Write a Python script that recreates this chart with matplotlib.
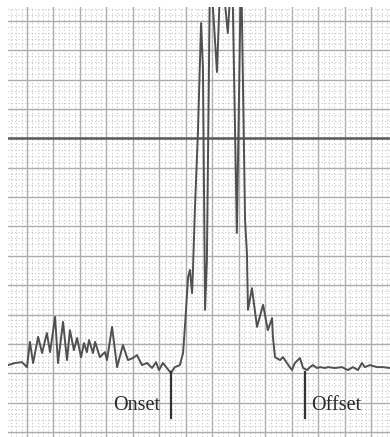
import numpy as np
import matplotlib.pyplot as plt
from matplotlib.ticker import MultipleLocator

# Trace, in grid divisions (major square = 1)
t = [-0.72, -0.45, -0.19, 0.00, 0.11, 0.23, 0.42, 0.57, 0.75, 0.87, 1.06, 1.17,
     1.36, 1.51, 1.62, 1.77, 1.89, 2.04, 2.15, 2.26, 2.34, 2.49, 2.57, 2.75,
     2.94, 3.02, 3.21, 3.40, 3.62, 3.81, 4.00, 4.15, 4.34, 4.53, 4.72, 4.87,
     4.98, 5.13, 5.28, 5.43, 5.58, 5.77, 5.89, 5.96, 6.08, 6.15, 6.23, 6.26,
     6.34, 6.45, 6.57, 6.64, 6.72, 6.79, 6.91, 7.17, 7.32, 7.58, 7.74, 7.92,
     8.08, 8.23, 8.30, 8.34, 8.49, 8.68, 8.91, 9.09, 9.25, 9.28, 9.36, 9.55,
     9.66, 9.81, 10.00, 10.11, 10.30, 10.42, 10.57, 10.68, 10.79, 10.94, 11.06,
     11.25, 11.36, 11.62, 11.89, 12.11, 12.30, 12.49, 12.64, 12.75, 12.94,
     13.21, 13.43, 13.70]
amp = [2.28, 2.35, 2.38, 2.21, 3.07, 2.35, 3.24, 2.69, 3.37, 2.72, 3.92, 2.35,
       3.75, 2.45, 3.47, 2.79, 3.20, 2.55, 3.03, 2.72, 3.13, 2.69, 3.07, 2.55,
       2.72, 2.45, 3.58, 2.21, 2.96, 2.45, 2.52, 2.62, 2.28, 2.35, 2.18, 2.38,
       2.11, 2.35, 2.18, 2.01, 2.21, 2.28, 2.69, 3.58, 5.28, 5.52, 4.73, 5.42,
       7.66, 10.18, 13.93, 12.43, 4.16, 5.86, 16.0, 12.26, 16.0, 13.59, 16.0, 6.78,
       16.0, 7.22, 6.10, 4.16, 4.90, 3.58, 4.33, 3.47, 3.88, 3.24, 2.55, 2.45,
       2.55, 2.35, 2.11, 2.35, 2.52, 2.18, 2.11, 2.21, 2.28, 2.18, 2.21,
       2.18, 2.21, 2.18, 2.21, 2.11, 2.21, 2.11, 2.35, 2.21, 2.28,
       2.21, 2.21, 2.18]

threshold = 10.0
markers = {"Onset": 5.43, "Offset": 10.49}

fig = plt.figure(figsize=(3.9, 4.37), dpi=100)
ax = fig.add_axes([8 / 390, 0, 382 / 390, 430 / 437])
ax.set_xlim(-0.717, 13.70)
ax.set_ylim(-0.17, 14.475)

# ECG-paper style grid
ax.xaxis.set_major_locator(MultipleLocator(1))
ax.yaxis.set_major_locator(MultipleLocator(1))
ax.xaxis.set_minor_locator(MultipleLocator(0.2))
ax.yaxis.set_minor_locator(MultipleLocator(0.2))
ax.grid(which="minor", color="#c8c8c8", linestyle=(0, (1, 2)), linewidth=0.8)
ax.grid(which="major", color="#adadad", linestyle="-", linewidth=1.0)
ax.set_axisbelow(True)
ax.tick_params(which="both", length=0, labelleft=False, labelbottom=False)
for s in ax.spines.values():
    s.set_visible(False)

ax.axhline(threshold, color="#5a5a5a", linewidth=1.8)
ax.plot(t, amp, color="#505050", linewidth=1.4, solid_joinstyle="round")

# onset / offset ticks and labels
for name, x in markers.items():
    ax.plot([x, x], [0.48, 2.04], color="#333333", linewidth=1.6)
for name, x, dx, ha in [("Onset", markers["Onset"], -0.41, "right"),
                        ("Offset", markers["Offset"], 0.23, "left")]:
    ax.text(x + dx, 0.75, name, ha=ha, va="baseline", fontsize=14.5,
            family="Liberation Serif", color="#2a2a2a")

fig.savefig("out.png", dpi=100)
